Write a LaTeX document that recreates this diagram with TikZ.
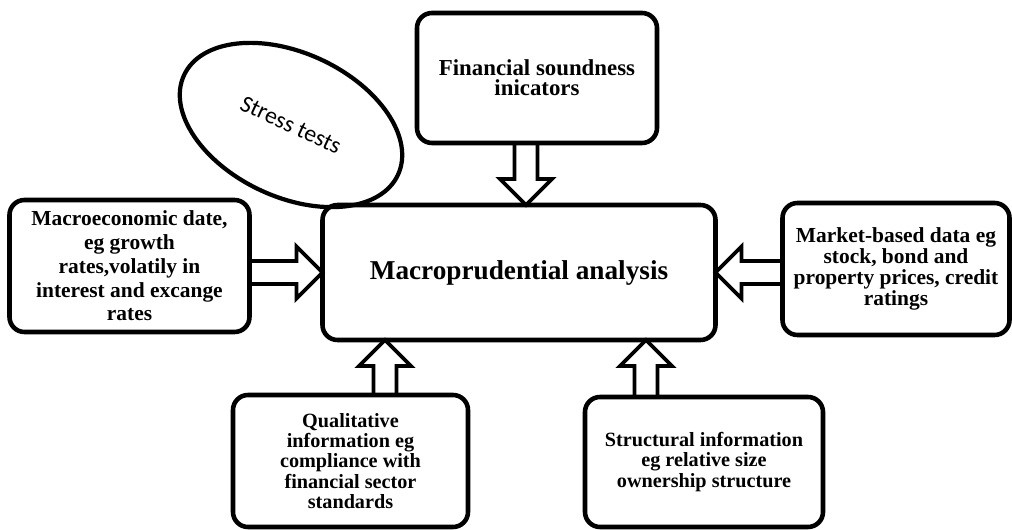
\documentclass[tikz,border=0pt]{standalone}
\usepackage{fontspec}
\setmainfont{Liberation Serif}
\newfontfamily\calibri{Carlito}
\usetikzlibrary{positioning, shapes.geometric, calc}

\begin{document}
\begin{tikzpicture}[node distance=1.2cm and 1.4cm, auto]
            \tikzstyle{source} = [rectangle, draw, line width=2.6pt, outer sep=0pt,
                rounded corners=0.3cm, align=center, minimum height=2.64cm,
                font=\fontsize{11.5}{11.5}\selectfont\bfseries]
            \tikzstyle{analysisbox} = [rectangle, draw, line width=2.6pt, outer sep=0pt,
                rounded corners=0.3cm, align=center, minimum width=7.86cm, minimum height=2.7cm,
                font=\fontsize{15.5}{18}\selectfont\bfseries]
            \tikzstyle{stress} = [ellipse, draw, line width=2.4pt, minimum width=4.72cm,
                minimum height=2.88cm, font=\calibri\fontsize{13.5}{15}\selectfont]
            \tikzstyle{hollow} = [draw, line width=2.2pt, line join=miter]

            % hollow block arrow from #1 to #2
            \newcommand{\blockarrow}[2]{
                \coordinate (head) at ($(#2)!0.52cm!(#1)$);
                \path [hollow] ($(#1)!0.23cm!90:(#2)$) -- ($(head)!0.23cm!90:(#2)$)
                    -- ($(head)!0.52cm!90:(#2)$) -- (#2) -- ($(head)!0.52cm!-90:(#2)$)
                    -- ($(head)!0.23cm!-90:(#2)$) -- ($(#1)!0.23cm!-90:(#2)$);
            }

            \useasboundingbox (-10.38,-5.15) rectangle (9.86,5.45);

            \node [analysisbox] (analysis) at (0,0) {Macroprudential analysis};
            \node [source, minimum width=4.8cm, left=1.46cm of analysis, yshift=0.13cm,
                font=\fontsize{12.2}{13.5}\selectfont\bfseries] (macro)
                {Macroeconomic date,\\ eg growth\\ rates,volatily in\\ interest and excange\\ rates};
            \node [source, minimum width=4.54cm, right=1.34cm of analysis, yshift=0.07cm,
                font=\fontsize{12.2}{11.8}\selectfont\bfseries] (market)
                {Market-based data eg\\ stock, bond and\\ property prices, credit\\ ratings};
            \node [source, minimum width=4.8cm, minimum height=2.6cm, above=1.24cm of analysis,
                xshift=0.36cm, font=\fontsize{13}{11.5}\selectfont\bfseries] (fsi)
                {Financial soundness\\ inicators};
            \node [source, minimum width=4.7cm, below=1.1cm of analysis, xshift=-3.37cm] (qual)
                {Qualitative\\ information eg\\ compliance with\\ financial sector\\ standards};
            \node [source, minimum width=4.76cm, minimum height=2.6cm, below=1.14cm of analysis,
                xshift=3.7cm] (struct) {Structural information\\ eg relative size\\ ownership structure};
            \node [stress, rotate=-25] (stresstest) at (-4.56,2.95) {Stress tests};

            \coordinate (macroout) at (macro.east |- analysis.center);
            \coordinate (marketout) at (market.west |- analysis.center);
            \coordinate (fsiout) at ([xshift=-0.22cm]fsi.south);
            \coordinate (fsiin) at (fsiout |- analysis.north);
            \coordinate (qualout) at ([xshift=0.69cm]qual.north);
            \coordinate (qualin) at (qualout |- analysis.south);
            \coordinate (structout) at ([xshift=-1.16cm]struct.north);
            \coordinate (structin) at (structout |- analysis.south);

            \blockarrow{macroout}{analysis.west |- macroout}
            \blockarrow{marketout}{analysis.east |- marketout}
            \blockarrow{fsiout}{fsiin}
            \blockarrow{qualout}{qualin}
            \blockarrow{structout}{structin}
        \end{tikzpicture}
\end{document}
